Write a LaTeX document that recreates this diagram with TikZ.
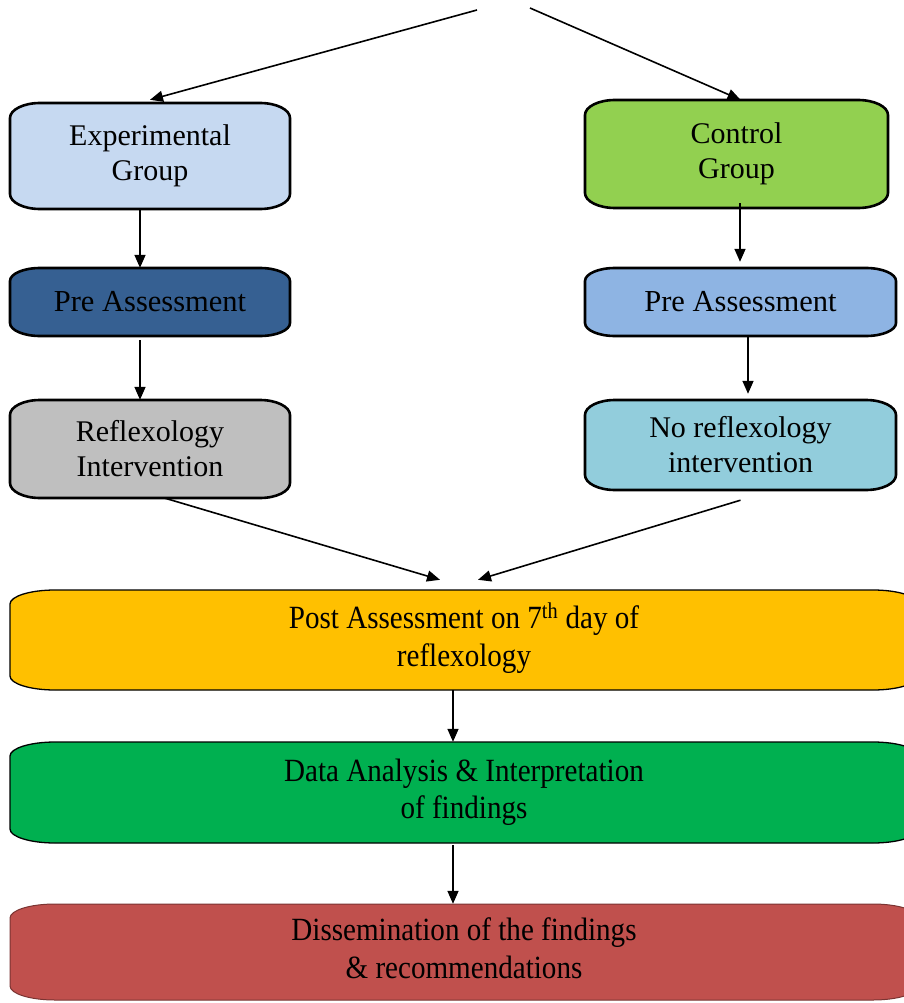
\documentclass[tikz,border=0pt]{standalone}
\usepackage{fontspec}
\setmainfont{Liberation Serif}
\usetikzlibrary{arrows.meta}
\definecolor{cExp}{HTML}{C6D9F1}
\definecolor{cCtl}{HTML}{92D050}
\definecolor{cPreL}{HTML}{366092}
\definecolor{cPreR}{HTML}{8EB4E3}
\definecolor{cRef}{HTML}{BFBFBF}
\definecolor{cNoR}{HTML}{92CDDC}
\definecolor{cPost}{HTML}{FFC000}
\definecolor{cData}{HTML}{00B050}
\definecolor{cDis}{HTML}{C0504D}
\definecolor{cDisLine}{HTML}{7A3432}
% #1 name, #2 x1, #3 y1, #4 x2, #5 y2, #6 rx, #7 ry, #8 path style, #9 text
\newcommand\ebox[9]{%
  \path[#8] ({#2+#6},#3) -- ({#4-#6},#3)
    .. controls ({#4-#6+0.5523*#6},#3) and (#4,{#3+#7-0.5523*#7}) .. (#4,{#3+#7})
    -- (#4,{#5-#7})
    .. controls (#4,{#5-#7+0.5523*#7}) and ({#4-#6+0.5523*#6},#5) .. ({#4-#6},#5)
    -- ({#2+#6},#5)
    .. controls ({#2+#6-0.5523*#6},#5) and (#2,{#5-#7+0.5523*#7}) .. (#2,{#5-#7})
    -- (#2,{#3+#7})
    .. controls (#2,{#3+#7-0.5523*#7}) and ({#2+#6-0.5523*#6},#3) .. ({#2+#6},#3) -- cycle;
  \node[boxtext, minimum width={(#4-#2)*1pt}, minimum height={(#5-#3)*1pt}] (#1) at ({(#2+#4)/2},{(#3+#5)/2}) {#9};
}
\tikzset{
  boxtext/.style={inner sep=0pt, align=center, font=\fontsize{30}{35}\selectfont, text=black},
  lowtext/.style={font=\fontsize{29}{35}\selectfont},
  topbox/.style={draw=black, line width=2.6pt},
  lowbox/.style={draw=black, line width=1.3pt},
  arr/.style={line width=1.6pt, -{Triangle[length=13pt,width=11pt]}},
}
\begin{document}
\begin{tikzpicture}[x=1pt,y=-1pt]
\useasboundingbox (0,0) rectangle (904,1003);
% left column
\ebox{exp}{10}{103}{290}{209}{30}{15}{topbox, fill=cExp}{Experimental\\Group}
\ebox{preL}{10}{268}{290}{336}{30}{13}{topbox, fill=cPreL}{\fontsize{30.5}{36}\selectfont Pre Assessment}
\ebox{ref}{10}{400}{290}{498}{30}{15}{topbox, fill=cRef}{Reflexology\\Intervention}
% right column
\ebox{ctl}{585}{100}{888}{208}{30}{15}{topbox, fill=cCtl}{Control\\Group}
\ebox{preR}{585}{268}{896}{336}{30}{13}{topbox, fill=cPreR}{\fontsize{30.5}{36}\selectfont Pre Assessment}
\ebox{nor}{585}{400}{896}{490}{30}{15}{topbox, fill=cNoR}{No reflexology\\intervention}
% bottom rows
\ebox{post}{10}{590}{918}{690}{45}{14}{lowbox, fill=cPost}{\scalebox{0.97}[1.08]{\begin{tabular}{@{}c@{}}Post Assessment on 7\textsuperscript{th} day of\\reflexology\end{tabular}}}
\ebox{data}{10}{742}{918}{843}{45}{14}{lowbox, fill=cData}{\scalebox{0.97}[1.08]{\begin{tabular}{@{}c@{}}Data Analysis \& Interpretation\\of findings\end{tabular}}}
\ebox{dis}{10}{904}{918}{1000}{45}{14}{draw=cDisLine, line width=1pt, fill=cDis}{\scalebox{0.97}[1.08]{\begin{tabular}{@{}c@{}}Dissemination of the findings\\\& recommendations\end{tabular}}}
% helper coordinates
\coordinate (lc) at (140,0);
\coordinate (rc1) at (740,0);
\coordinate (rc2) at (748,0);
\coordinate (mc) at (453,0);
\coordinate (topL) at (477,10);
\coordinate (topR) at (530,8);
% connectors
\draw[arr] (topL) -- ([yshift=3pt]exp.north);
\draw[arr] (topR) -- ([xshift=4pt]ctl.north);
\draw[arr] (exp.south -| lc) -- (preL.north -| lc);
\draw[arr] ([yshift=-4pt]preL.south -| lc) -- (ref.north -| lc);
\draw[arr] ([yshift=5pt]ctl.south -| rc1) -- ([yshift=6pt]preR.north -| rc1);
\draw[arr] (preR.south -| rc2) -- ([yshift=6pt]nor.north -| rc2);
\draw[arr] ([xshift=15pt]ref.south) -- ([xshift=-24pt,yshift=10pt]post.north);
\draw[arr] ([yshift=-10pt]nor.south) -- ([xshift=14pt,yshift=10pt]post.north);
\draw[arr] (post.south -| mc) -- (data.north -| mc);
\draw[arr] ([yshift=-2pt]data.south -| mc) -- (dis.north -| mc);
\end{tikzpicture}
\end{document}
